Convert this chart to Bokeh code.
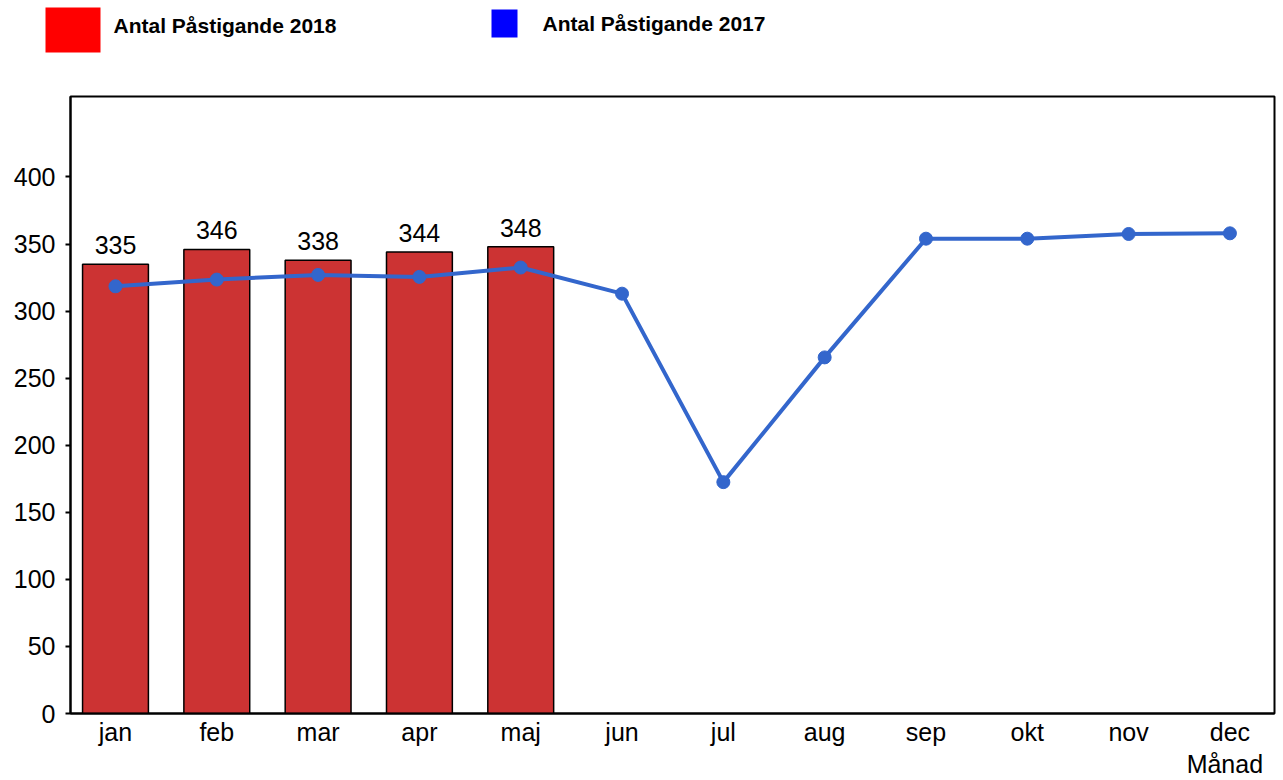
from bokeh.plotting import figure
from bokeh.models import Range1d, FixedTicker, LabelSet, ColumnDataSource, LinearAxis
from bokeh.layouts import column, row
from bokeh.core.properties import value
from bokeh.embed import file_html
from bokeh.resources import INLINE

months = ["jan", "feb", "mar", "apr", "maj", "jun", "jul", "aug", "sep", "okt", "nov", "dec"]
values_2018 = [335, 346, 338, 344, 348]
values_2017 = [318.5, 323.5, 327, 325.5, 332.5, 313, 172.5, 265.5, 354, 354, 357.5, 358]
y_ticks = [0, 50, 100, 150, 200, 250, 300, 350, 400]
series_names = ["Antal Påstigande 2018", "Antal Påstigande 2017"]
x_label = "Månad"

FONT = "Liberation Sans"

# ---------- legend strip (pixel coordinates) ----------
leg = figure(width=1280, height=88, x_range=Range1d(0, 1280), y_range=Range1d(88, 0),
             output_backend="svg", toolbar_location=None,
             x_axis_location=None, y_axis_location=None,
             min_border=0, min_border_left=0, min_border_right=0,
             min_border_top=0, min_border_bottom=0)
leg.grid.visible = False
leg.outline_line_color = None
leg.quad(left=[45], right=[100], top=[7], bottom=[52], fill_color="#FF0000", line_color=None)
leg.quad(left=[491], right=[517], top=[9], bottom=[37], fill_color="#0000FF", line_color=None)
leg.text(x=[113], y=[24.5], text=[series_names[0]], text_font=value(FONT), text_font_style="bold",
         text_font_size="21px", text_baseline="middle", text_align="left", text_color="black")
leg.text(x=[542], y=[22.5], text=[series_names[1]], text_font=value(FONT), text_font_style="bold",
         text_font_size="21px", text_baseline="middle", text_align="left", text_color="black")

# ---------- main chart ----------
p = figure(width=1280, height=692, x_range=Range1d(-0.444, 11.44), y_range=Range1d(0, 460),
           output_backend="svg", toolbar_location=None,
           min_border_left=70, min_border_right=6, min_border_top=8, min_border_bottom=67)
p.grid.visible = False
p.outline_line_color = "black"
p.outline_line_width = 2

idx18 = list(range(len(values_2018)))
src18 = ColumnDataSource(dict(x=idx18, top=values_2018, lab=[str(v) for v in values_2018]))
p.vbar(x="x", top="top", bottom=0, width=0.65, source=src18,
       fill_color="#CC3333", line_color="black", line_width=1.5)
p.add_layout(LabelSet(x="x", y="top", text="lab", source=src18, text_font=value(FONT),
                      text_font_size=value("25px"), text_align="center",
                      text_baseline="alphabetic", y_offset=10, text_color="black"))

idx17 = list(range(len(values_2017)))
p.line(x=idx17, y=values_2017, line_color="#3366CC", line_width=4)
p.scatter(x=idx17, y=values_2017, size=13, fill_color="#3366CC", line_color="#3366CC")

p.yaxis.ticker = FixedTicker(ticks=y_ticks)
p.yaxis.minor_tick_line_color = None
p.yaxis.major_tick_out = 5
p.yaxis.major_tick_in = 0
p.yaxis.major_tick_line_width = 2
p.yaxis.axis_line_width = 2
p.yaxis.major_label_text_font = FONT
p.yaxis.major_label_text_font_size = "25px"
p.yaxis.major_label_text_color = "black"
p.yaxis.major_label_standoff = 10

p.xaxis.ticker = FixedTicker(ticks=list(range(len(months))))
p.xaxis.major_label_overrides = {i: m for i, m in enumerate(months)}
p.xaxis.minor_tick_line_color = None
p.xaxis.major_tick_line_color = None
p.xaxis.major_tick_out = 0
p.xaxis.major_tick_in = 0
p.xaxis.axis_line_width = 2
p.xaxis.major_label_text_font = FONT
p.xaxis.major_label_text_font_size = "25px"
p.xaxis.major_label_text_color = "black"
p.xaxis.major_label_standoff = 4

# second bottom axis carrying the axis title under "dec"
lab_axis = LinearAxis(ticker=FixedTicker(ticks=[10.95]),
                      major_label_overrides={10.95: x_label})
lab_axis.axis_line_color = None
lab_axis.major_tick_line_color = None
lab_axis.minor_tick_line_color = None
lab_axis.major_tick_out = 0
lab_axis.major_tick_in = 0
lab_axis.major_label_standoff = 1
lab_axis.major_label_text_font = FONT
lab_axis.major_label_text_font_size = "25px"
lab_axis.major_label_text_color = "black"
p.add_layout(lab_axis, "below")

layout = column(row(leg), p, spacing=0)
open("out.html", "w").write(file_html(layout, INLINE))
